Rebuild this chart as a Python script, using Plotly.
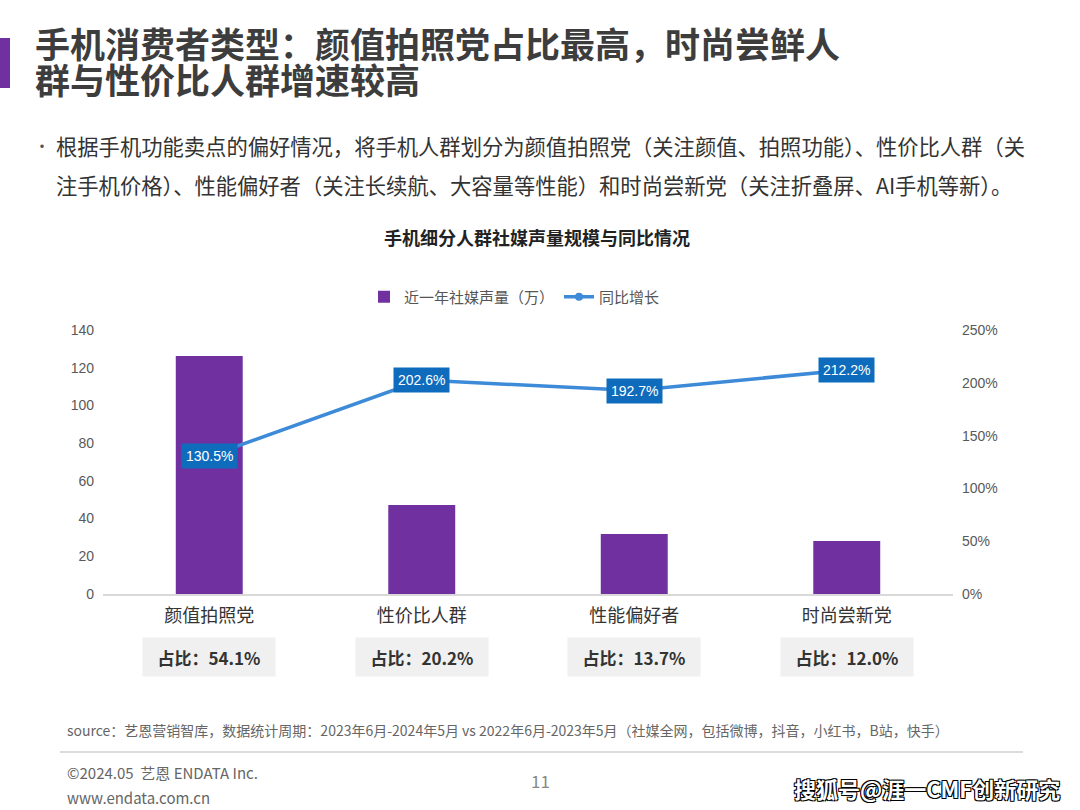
import plotly.graph_objects as go

categories = ["颜值拍照党", "性价比人群", "性能偏好者", "时尚尝新党"]
volume = [126.2, 47.2, 31.8, 28.1]
growth = [130.5, 202.6, 192.7, 212.2]
share = ["54.1%", "20.2%", "13.7%", "12.0%"]

W, H = 1080, 810
L, R, T, B = 103, 953, 330, 594
FONT = "Noto Sans CJK SC"


def px(x):
    return (x - L) / (R - L)


def py(y):
    return (B - y) / (B - T)


fig = go.Figure()
fig.add_trace(go.Bar(
    x=categories, y=volume, name="近一年社媒声量（万）",
    marker=dict(color="#7030a0", line=dict(width=0)), width=0.315,
    hoverinfo="skip",
))
fig.add_trace(go.Scatter(
    x=categories, y=growth, name="同比增长", yaxis="y2",
    mode="lines+markers", line=dict(color="#3d8bd8", width=3.5),
    marker=dict(color="#3d8bd8", size=8), hoverinfo="skip",
))

ann = []
for c, g in zip(categories, growth):
    ann.append(dict(x=c, y=g, xref="x", yref="y2", text=f"{g:.1f}%", showarrow=False,
                    xanchor="center", yanchor="middle",
                    bgcolor="#0f6cbd", borderpad=4,
                    font=dict(family="Liberation Sans", size=14, color="white")))
for c, s in zip(categories, share):
    ann.append(dict(x=c, y=py(657), xref="x", yref="paper", text=f"<b>占比：{s}</b>", showarrow=False,
                    xanchor="center", yanchor="middle",
                    bgcolor="#f0f0f0", width=124, height=30, borderpad=4,
                    font=dict(family=FONT, size=17, color="#333333")))

texts = [
    (33, 42, "<b>手机消费者类型：颜值拍照党占比最高，时尚尝鲜人</b>", 35, "#3d3d3d", "left"),
    (33, 78, "<b>群与性价比人群增速较高</b>", 35, "#3d3d3d", "left"),
    (32, 145, "•", 16, "#555555", "left"),
    (54, 145, "根据手机功能卖点的偏好情况，将手机人群划分为颜值拍照党（关注颜值、拍照功能）、性价比人群（关", 21.3, "#333333", "left"),
    (54, 184, "注手机价格）、性能偏好者（关注长续航、大容量等性能）和时尚尝新党（关注折叠屏、AI手机等新）。", 21.3, "#333333", "left"),
    (537, 237, "<b>手机细分人群社媒声量规模与同比情况</b>", 18, "#222222", "center"),
    (65, 730, "source：艺恩营销智库，数据统计周期：2023年6月-2024年5月 vs 2022年6月-2023年5月（社媒全网，包括微博，抖音，小红书，B站，快手）", 14, "#666666", "left"),
    (65, 772, "©2024.05  艺恩 ENDATA Inc.", 15, "#666666", "left"),
    (65, 797, "www.endata.com.cn", 15, "#666666", "left"),
    (540, 780, "11", 17, "#888888", "center"),
]
for x, y, t, s, col, al in texts:
    ann.append(dict(x=px(x), y=py(y), xref="paper", yref="paper", text=t, showarrow=False,
                    xanchor=al, yanchor="middle", align=al,
                    font=dict(family=FONT, size=s, color=col)))

ann.append(dict(x=px(1062), y=py(788), xref="paper", yref="paper", text="<b>搜狐号@涯一CMF创新研究</b>",
                showarrow=False, xanchor="right", yanchor="middle",
                font=dict(family=FONT, size=22, color="white",
                          shadow="1px 1px 0 #000, -1px -1px 0 #000, 1px -1px 0 #000, -1px 1px 0 #000")))

shapes = [
    dict(type="rect", xref="paper", yref="paper", x0=px(0), x1=px(10), y0=py(38), y1=py(88),
         fillcolor="#7030a0", line=dict(width=0)),
    dict(type="line", xref="paper", yref="paper", x0=px(60), x1=px(1023), y0=py(752), y1=py(752),
         line=dict(color="#d0d0d0", width=1.5)),
]

fig.update_layout(
    width=W, height=H,
    margin=dict(l=L, r=W - R, t=T, b=H - B, pad=0),
    paper_bgcolor="white", plot_bgcolor="white",
    font=dict(family=FONT, color="#555555"),
    showlegend=True,
    legend=dict(orientation="h", x=px(364), y=py(297), xanchor="left", yanchor="middle",
                font=dict(family=FONT, size=15, color="#555555"), itemwidth=30,
                bgcolor="rgba(0,0,0,0)", tracegroupgap=0),
    xaxis=dict(showgrid=False, showline=True, linecolor="#d9d9d9", linewidth=1.5,
               ticks="", tickfont=dict(family=FONT, size=18, color="#333333"),
               ticklabelstandoff=5, zeroline=False),
    yaxis=dict(range=[0, 140], dtick=20, showgrid=False, showline=False, zeroline=False,
               tickfont=dict(family="Liberation Sans", size=14, color="#595959"),
               ticklabelstandoff=8),
    yaxis2=dict(range=[0, 250], dtick=50, overlaying="y", side="right", showgrid=False,
                showline=False, zeroline=False, ticksuffix="%",
                tickfont=dict(family="Liberation Sans", size=14, color="#595959"),
                ticklabelstandoff=8),
    annotations=ann,
    shapes=shapes,
)

fig.write_html("out.html", config={"displayModeBar": False},
               post_script="document.body.style.margin='0';document.body.style.overflow='hidden';")
